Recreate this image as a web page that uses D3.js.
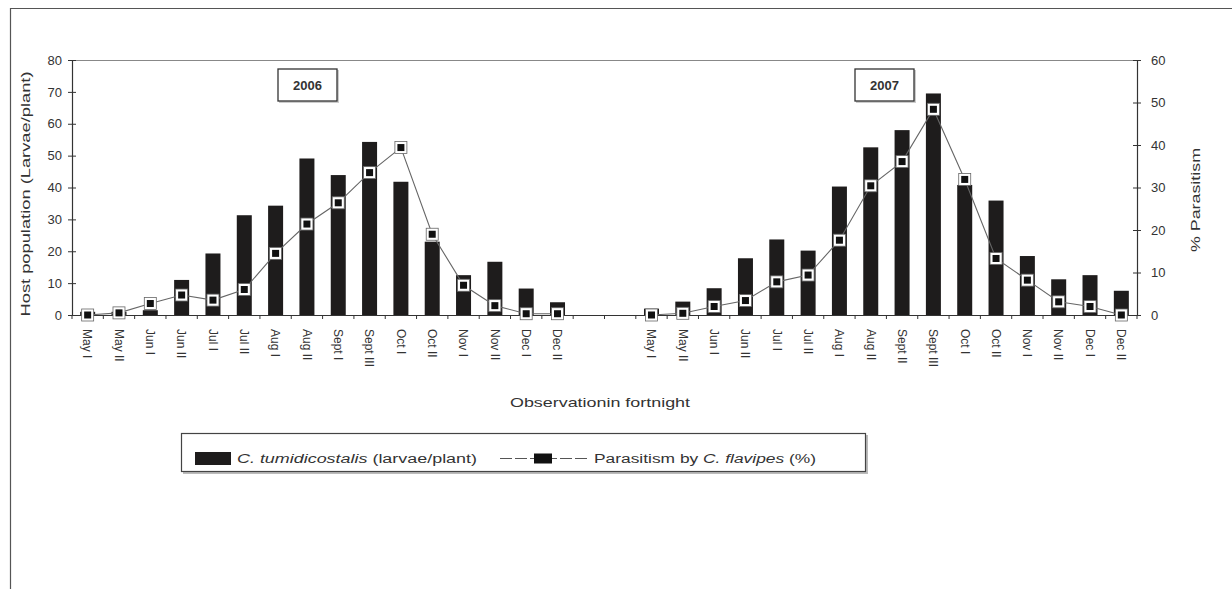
<!DOCTYPE html>
<html>
<head>
<meta charset="utf-8">
<script src="https://cdn.jsdelivr.net/npm/d3@7"></script>
<style>
  body { margin: 0; background: #fff; }
  text { font-family: "Liberation Sans", Arial, sans-serif; fill: #333; }
</style>
</head>
<body>
<script>
// fortnight labels per year
var cats2006 = ["May I","May II","Jun I","Jun II","Jul I","Jul II","Aug I","Aug II","Sept I","Sept III","Oct I","Oct II","Nov I","Nov II","Dec I","Dec II"];
var cats2007 = ["May I","May II","Jun I","Jun II","Jul I","Jul II","Aug I","Aug II","Sept II","Sept III","Oct I","Oct II","Nov I","Nov II","Dec I","Dec II"];

// C. tumidicostalis larvae per plant
var larvae2006 = [1, 1, 1.5, 11, 19.3, 31.3, 34.3, 49.1, 43.9, 54.3, 41.8, 23, 12.5, 16.7, 8.3, 4];
var larvae2007 = [2, 4.2, 8.4, 17.8, 23.7, 20.2, 40.3, 52.6, 58, 69.5, 40.8, 35.9, 18.5, 11.2, 12.5, 7.6];

// % parasitism by C. flavipes
var para2006 = [0, 0.5, 2.7, 4.7, 3.5, 6, 14.5, 21.4, 26.4, 33.5, 39.4, 19, 7, 2.2, 0.3, 0.3];
var para2007 = [0, 0.4, 2, 3.4, 7.8, 9.4, 17.6, 30.4, 36.1, 48.4, 31.9, 13.3, 8.2, 3.1, 2, 0];

var leftTicks = [0,10,20,30,40,50,60,70,80];
var rightTicks = [0,10,20,30,40,50,60];
var years = ["2006", "2007"];

var width = 1232, height = 589;
var x0 = 72, x1 = 1137, yTop = 60, yBot = 315;

var svg = d3.select("body").append("svg")
    .attr("width", width)
    .attr("height", height);

// outer frame (only top + left visible)
svg.append("path")
    .attr("d", "M10.5," + height + "V8.5H" + width)
    .attr("fill", "none")
    .attr("stroke", "#555")
    .attr("stroke-width", 1.2);

// build the keys, with two empty slots between years
var keys = [];
cats2006.forEach(function(c){ keys.push("2006|" + c); });
keys.push("gap|a"); keys.push("gap|b");
cats2007.forEach(function(c){ keys.push("2007|" + c); });

var x = d3.scaleBand().domain(keys).range([x0, x1]).padding(0);
var yL = d3.scaleLinear().domain([0, 80]).range([yBot, yTop]);
var yR = d3.scaleLinear().domain([0, 60]).range([yBot, yTop]);

function rows(year, cats, larvae, para) {
  return cats.map(function(c, i) {
    return { key: year + "|" + c, larvae: larvae[i], para: para[i] };
  });
}
var d2006 = rows("2006", cats2006, larvae2006, para2006);
var d2007 = rows("2007", cats2007, larvae2007, para2007);
var all = d2006.concat(d2007);

// top border of plot
svg.append("line")
    .attr("x1", x0).attr("x2", x1)
    .attr("y1", yTop + 0.5).attr("y2", yTop + 0.5)
    .attr("stroke", "#888");

// bars
var barW = 15;
svg.append("g")
  .selectAll("rect")
  .data(all)
  .enter().append("rect")
    .attr("x", function(d){ return x(d.key) + x.bandwidth() / 2 - barW / 2; })
    .attr("y", function(d){ return yL(d.larvae); })
    .attr("width", barW)
    .attr("height", function(d){ return yBot - yL(d.larvae); })
    .attr("fill", "#1e1c1c");

// x axis with labels
var xAxis = svg.append("g")
    .attr("transform", "translate(0," + yBot + ")")
    .call(d3.axisBottom(x)
        .tickSize(0)
        .tickFormat(function(d){ return d.indexOf("gap") === 0 ? "" : d.split("|")[1]; }));
xAxis.select(".domain").attr("stroke", "#333").attr("stroke-width", 1.2);
xAxis.selectAll("text")
    .attr("font-size", 12)
    .attr("fill", "#444")
    .attr("text-anchor", "start")
    .attr("dy", "0.35em")
    .attr("y", 0)
    .attr("transform", "translate(0,14) rotate(90)");

// boundary ticks under the axis
var bounds = keys.map(function(k){ return x(k); });
bounds.push(x1);
svg.append("g")
  .selectAll("line")
  .data(bounds)
  .enter().append("line")
    .attr("x1", function(d){ return d; })
    .attr("x2", function(d){ return d; })
    .attr("y1", yBot)
    .attr("y2", yBot + 4)
    .attr("stroke", "#333");

// left axis
var lAxis = svg.append("g")
    .attr("transform", "translate(" + x0 + ",0)")
    .call(d3.axisLeft(yL).tickValues(leftTicks).tickSizeOuter(0).tickSizeInner(4).tickPadding(6));
lAxis.select(".domain").attr("stroke", "#333").attr("stroke-width", 1.2);
lAxis.selectAll(".tick line").attr("x1", 4).attr("x2", -4).attr("stroke", "#333");
lAxis.selectAll("text").attr("font-size", 13).attr("fill", "#444").attr("font-family", "Liberation Sans, Arial, sans-serif");

// right axis
var rAxis = svg.append("g")
    .attr("transform", "translate(" + x1 + ",0)")
    .call(d3.axisRight(yR).tickValues(rightTicks).tickSizeOuter(0).tickSizeInner(4).tickPadding(10));
rAxis.select(".domain").attr("stroke", "#333").attr("stroke-width", 1.2);
rAxis.selectAll(".tick line").attr("x1", -4).attr("x2", 4).attr("stroke", "#333");
rAxis.selectAll("text").attr("font-size", 13).attr("fill", "#444").attr("font-family", "Liberation Sans, Arial, sans-serif");

// parasitism lines
var line = d3.line()
    .x(function(d){ return x(d.key) + x.bandwidth() / 2; })
    .y(function(d){ return yR(d.para); });
[d2006, d2007].forEach(function(ds){
  svg.append("path")
      .datum(ds)
      .attr("d", line)
      .attr("fill", "none")
      .attr("stroke", "#666")
      .attr("stroke-width", 1.1);
});

// markers
function marker(sel) {
  sel.append("rect")
      .attr("x", -6).attr("y", -6).attr("width", 12).attr("height", 12)
      .attr("fill", "#fff").attr("stroke", "#666").attr("stroke-width", 0.8);
  sel.append("rect")
      .attr("x", -3.5).attr("y", -3.5).attr("width", 7).attr("height", 7)
      .attr("fill", "#111");
}
svg.append("g")
  .selectAll("g")
  .data(all)
  .enter().append("g")
    .attr("transform", function(d){ return "translate(" + (x(d.key) + x.bandwidth() / 2) + "," + yR(d.para) + ")"; })
    .call(marker);

// year boxes
var yearBoxes = [{ label: years[0], cx: 308 }, { label: years[1], cx: 885 }];
yearBoxes.forEach(function(b){
  svg.append("rect")
      .attr("x", b.cx - 29).attr("y", 70).attr("width", 60).attr("height", 33)
      .attr("fill", "#ccc");
  svg.append("rect")
      .attr("x", b.cx - 30).attr("y", 69).attr("width", 59).attr("height", 32)
      .attr("fill", "#fff").attr("stroke", "#333").attr("stroke-width", 1.3);
  svg.append("text")
      .attr("x", b.cx - 0.5).attr("y", 90)
      .attr("text-anchor", "middle")
      .attr("font-size", 13).attr("font-weight", "bold")
      .text(b.label);
});

// axis titles
svg.append("text")
    .attr("transform", "translate(30,194) rotate(-90)")
    .attr("text-anchor", "middle")
    .attr("font-size", 13)
    .attr("textLength", 245).attr("lengthAdjust", "spacingAndGlyphs")
    .text("Host population (Larvae/plant)");

svg.append("text")
    .attr("transform", "translate(1200,200) rotate(-90)")
    .attr("text-anchor", "middle")
    .attr("font-size", 13)
    .attr("textLength", 104).attr("lengthAdjust", "spacingAndGlyphs")
    .text("% Parasitism");

svg.append("text")
    .attr("x", 600).attr("y", 407)
    .attr("text-anchor", "middle")
    .attr("font-size", 13)
    .attr("textLength", 180).attr("lengthAdjust", "spacingAndGlyphs")
    .text("Observationin fortnight");

// legend
var lg = svg.append("g");
lg.append("rect")
    .attr("x", 183).attr("y", 435).attr("width", 685).attr("height", 39)
    .attr("fill", "#bbb");
lg.append("rect")
    .attr("x", 181.5).attr("y", 433.5).attr("width", 684).attr("height", 38)
    .attr("fill", "#fff").attr("stroke", "#444").attr("stroke-width", 1.2);
lg.append("rect")
    .attr("x", 195).attr("y", 452).attr("width", 36).attr("height", 13)
    .attr("fill", "#1e1c1c");
var t1 = lg.append("text")
    .attr("x", 237).attr("y", 463)
    .attr("font-size", 12)
    .attr("textLength", 240).attr("lengthAdjust", "spacingAndGlyphs");
t1.append("tspan").attr("font-style", "italic").text("C. tumidicostalis");
t1.append("tspan").text(" (larvae/plant)");

lg.append("line")
    .attr("x1", 500).attr("x2", 587).attr("y1", 458.5).attr("y2", 458.5)
    .attr("stroke", "#555").attr("stroke-width", 1.1)
    .attr("stroke-dasharray", "12,3");
lg.append("g")
    .attr("transform", "translate(543,458.5)")
    .call(function(sel){
      sel.append("rect").attr("x", -9).attr("y", -5).attr("width", 18).attr("height", 10).attr("fill", "#111");
    });
var t2 = lg.append("text")
    .attr("x", 594).attr("y", 463)
    .attr("font-size", 12)
    .attr("textLength", 222).attr("lengthAdjust", "spacingAndGlyphs");
t2.append("tspan").text("Parasitism by ");
t2.append("tspan").attr("font-style", "italic").text("C. flavipes");
t2.append("tspan").text(" (%)");
</script>
</body>
</html>
